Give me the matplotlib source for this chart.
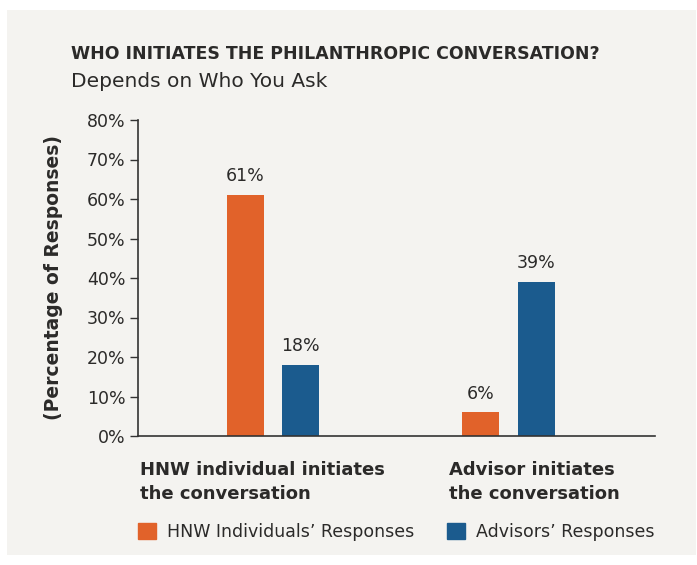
import numpy as np
import matplotlib
matplotlib.use('Agg')
import matplotlib.pyplot as plt
from matplotlib.patches import Patch, Rectangle

# --- data ---
groups = ["HNW individual initiates\nthe conversation", "Advisor initiates\nthe conversation"]
series_names = ["HNW Individuals\u2019 Responses", "Advisors\u2019 Responses"]
hnw_values = [61, 6]
advisor_values = [18, 39]
yticks = [0, 10, 20, 30, 40, 50, 60, 70, 80]

ORANGE = "#e1622a"
BLUE = "#1b5b8e"
PANEL = "#f4f3f0"
TEXT = "#2b2a29"

W, H = 697, 565
plt.rcParams['font.family'] = ['DejaVu Sans']


def fx(px):
    return px / W


def fy(py):
    return 1 - py / H


fig = plt.figure(figsize=(W / 100, H / 100), dpi=100, facecolor="white")
fig.patches.append(Rectangle((fx(7), fy(555)), fx(696) - fx(7), fy(10) - fy(555),
                             transform=fig.transFigure, facecolor=PANEL,
                             edgecolor="none", zorder=-10))

ax = fig.add_axes([fx(138), fy(436), fx(655) - fx(138), fy(120) - fy(436)])
ax.set_facecolor("none")

x = np.arange(len(groups))
width = 0.157
off = 0.117
b1 = ax.bar(x - off, hnw_values, width, color=ORANGE, label=series_names[0])
b2 = ax.bar(x + off, advisor_values, width, color=BLUE, label=series_names[1])

for bars, vals in [(b1, hnw_values), (b2, advisor_values)]:
    for bar, v in zip(bars, vals):
        ax.annotate(f"{v}%", (bar.get_x() + bar.get_width() / 2, bar.get_height()),
                    xytext=(0, 7), textcoords="offset points", ha="center",
                    va="bottom", fontsize=12.5, color=TEXT)

ax.set_xlim(-0.573, 1.622)
ax.set_ylim(0, 80)
ax.set_yticks(yticks)
ax.set_yticklabels([f"{t}%" for t in yticks], fontsize=12.5, color=TEXT)
ax.set_xticks([])
ax.tick_params(axis="y", length=6, width=1, color="#333333", pad=3)
for s in ["top", "right"]:
    ax.spines[s].set_visible(False)
for s in ["left", "bottom"]:
    ax.spines[s].set_color("#333333")
    ax.spines[s].set_linewidth(1.2)

ax.set_ylabel("(Percentage of Responses)", fontsize=13.5, fontweight="bold",
              color=TEXT, labelpad=17)

# group labels, left aligned (baseline of last line)
for px, lab in zip([140, 449], groups):
    fig.text(fx(px), fy(499), lab, fontsize=13, fontweight="bold", color=TEXT,
             ha="left", va="baseline", linespacing=1.4)

fig.text(fx(71), fy(59), "WHO INITIATES THE PHILANTHROPIC CONVERSATION?",
         fontsize=12.5, fontweight="bold", color=TEXT, ha="left", va="baseline")
fig.text(fx(71), fy(87), "Depends on Who You Ask", fontsize=14.5,
         color=TEXT, ha="left", va="baseline")

handles = [Patch(color=ORANGE), Patch(color=BLUE)]
fig.legend(handles, series_names, loc="center left",
           bbox_to_anchor=(fx(138), fy(532)), ncol=2, frameon=False,
           fontsize=12.5, handlelength=1.05, handleheight=1.05,
           handletextpad=0.6, columnspacing=1.9, borderpad=0, borderaxespad=0,
           labelcolor=TEXT)

fig.savefig("out.png", dpi=100, facecolor="white")
